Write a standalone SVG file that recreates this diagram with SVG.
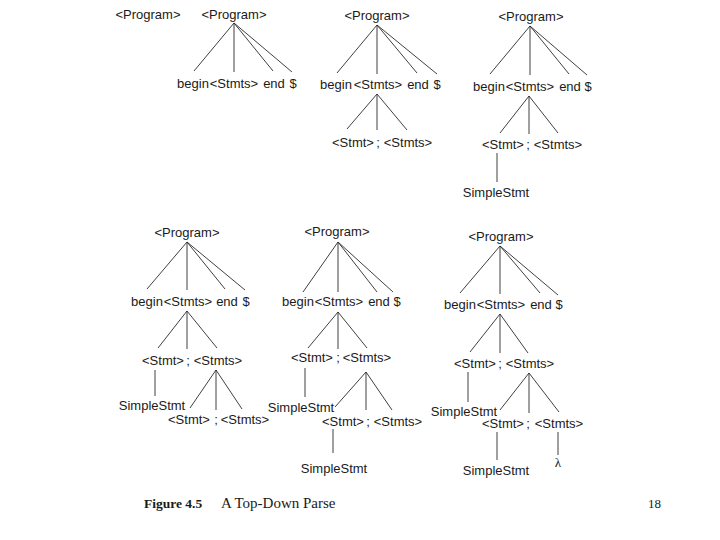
<svg xmlns="http://www.w3.org/2000/svg" width="720" height="540" viewBox="0 0 720 540">
<style>
.t{font-family:"Liberation Sans",Arial,Helvetica,sans-serif;font-size:13px;fill:#1a1a1a;text-anchor:middle}
.l{stroke:#2a2a2a;stroke-width:0.9;fill:none}
.cap{font-family:"Liberation Serif","Times New Roman",serif;fill:#1a1a1a}
</style>
<rect width="720" height="540" fill="#ffffff"/>
<g id="connectors" class="l">
<path d="M234 23L194 71M234 23L234 72M234 23L273 71M234 23L292 72"/>
<path d="M377 25L337 73M377 25L377 74M377 25L417 73M377 25L437 74"/>
<path d="M377 94L347 129M377 94L377 130M377 94L407 130"/>
<path d="M530 26L490 74M530 26L530 75M530 26L569 74M530 26L587 75"/>
<path d="M529 96L500 133M529 96L529 134M529 96L558 133M497 153L497 182"/>
<path d="M187 242L147 289M187 242L187 290M187 242L225 289M187 242L245 290"/>
<path d="M187 311L158 348M187 311L187 349M187 311L217 348M155 370L155 396"/>
<path d="M216 370L190 408M216 370L216 410M216 370L242 409"/>
<path d="M338 242L303 292M338 242L338 292M338 242L377 292M338 242L393 292"/>
<path d="M338 312L308 348M338 312L338 349M338 312L367 348M305 368L305 397"/>
<path d="M366 372L335 407M366 372L366 410M366 372L392 410M333 429L333 453"/>
<path d="M500 246L460 293M500 246L500 294M500 246L540 293M500 246L558 295"/>
<path d="M500 314L470 352M500 314L500 353M500 314L528 353M468 372L468 402"/>
<path d="M529 373L500 410M529 373L529 413M529 373L559 412M497 432L497 460M558 432L558 455"/>
</g>
<g id="tree0"><g id="t0-program"><text class="t" x="148" y="19">&lt;Program&gt;</text></g></g>
<g id="tree1">
<g id="t1-program"><text class="t" x="234" y="19">&lt;Program&gt;</text></g>
<g id="t1-begin"><text class="t" x="193" y="88">begin</text></g>
<g id="t1-stmts"><text class="t" x="234" y="88">&lt;Stmts&gt;</text></g>
<g id="t1-end"><text class="t" x="274" y="88">end</text></g>
<g id="t1-dollar"><text class="t" x="293" y="88">$</text></g>
</g>
<g id="tree2">
<g id="t2-program"><text class="t" x="377" y="20">&lt;Program&gt;</text></g>
<g id="t2-begin"><text class="t" x="336" y="89">begin</text></g>
<g id="t2-stmts"><text class="t" x="378" y="89">&lt;Stmts&gt;</text></g>
<g id="t2-end"><text class="t" x="418" y="89">end</text></g>
<g id="t2-dollar"><text class="t" x="437" y="89">$</text></g>
<g id="t2-stmt"><text class="t" x="353" y="147">&lt;Stmt&gt;</text></g>
<g id="t2-semi"><text class="t" x="378" y="147">;</text></g>
<g id="t2-stmts2"><text class="t" x="408" y="147">&lt;Stmts&gt;</text></g>
</g>
<g id="tree3">
<g id="t3-program"><text class="t" x="531" y="21">&lt;Program&gt;</text></g>
<g id="t3-begin"><text class="t" x="489" y="91">begin</text></g>
<g id="t3-stmts"><text class="t" x="530" y="91">&lt;Stmts&gt;</text></g>
<g id="t3-end"><text class="t" x="570" y="91">end</text></g>
<g id="t3-dollar"><text class="t" x="588" y="91">$</text></g>
<g id="t3-stmt"><text class="t" x="503" y="149">&lt;Stmt&gt;</text></g>
<g id="t3-semi"><text class="t" x="528" y="149">;</text></g>
<g id="t3-stmts2"><text class="t" x="558" y="149">&lt;Stmts&gt;</text></g>
<g id="t3-simple"><text class="t" x="496" y="197">SimpleStmt</text></g>
</g>
<g id="tree4">
<g id="t4-program"><text class="t" x="187" y="237">&lt;Program&gt;</text></g>
<g id="t4-begin"><text class="t" x="147" y="306">begin</text></g>
<g id="t4-stmts"><text class="t" x="188" y="306">&lt;Stmts&gt;</text></g>
<g id="t4-end"><text class="t" x="227" y="306">end</text></g>
<g id="t4-dollar"><text class="t" x="246" y="306">$</text></g>
<g id="t4-stmt"><text class="t" x="163" y="365">&lt;Stmt&gt;</text></g>
<g id="t4-semi"><text class="t" x="188" y="365">;</text></g>
<g id="t4-stmts2"><text class="t" x="218" y="365">&lt;Stmts&gt;</text></g>
<g id="t4-simple"><text class="t" x="152" y="410">SimpleStmt</text></g>
<g id="t4-stmt2"><text class="t" x="189" y="424">&lt;Stmt&gt;</text></g>
<g id="t4-semi2"><text class="t" x="216" y="424">;</text></g>
<g id="t4-stmts3"><text class="t" x="245" y="424">&lt;Stmts&gt;</text></g>
</g>
<g id="tree5">
<g id="t5-program"><text class="t" x="337" y="236">&lt;Program&gt;</text></g>
<g id="t5-begin"><text class="t" x="298" y="306">begin</text></g>
<g id="t5-stmts"><text class="t" x="339" y="306">&lt;Stmts&gt;</text></g>
<g id="t5-end"><text class="t" x="379" y="306">end</text></g>
<g id="t5-dollar"><text class="t" x="397" y="306">$</text></g>
<g id="t5-stmt"><text class="t" x="312" y="362">&lt;Stmt&gt;</text></g>
<g id="t5-semi"><text class="t" x="338" y="362">;</text></g>
<g id="t5-stmts2"><text class="t" x="367" y="362">&lt;Stmts&gt;</text></g>
<g id="t5-simple"><text class="t" x="301" y="412">SimpleStmt</text></g>
<g id="t5-stmt2"><text class="t" x="343" y="426">&lt;Stmt&gt;</text></g>
<g id="t5-semi2"><text class="t" x="368" y="426">;</text></g>
<g id="t5-stmts3"><text class="t" x="398" y="426">&lt;Stmts&gt;</text></g>
<g id="t5-simple2"><text class="t" x="334" y="473">SimpleStmt</text></g>
</g>
<g id="tree6">
<g id="t6-program"><text class="t" x="501" y="241">&lt;Program&gt;</text></g>
<g id="t6-begin"><text class="t" x="460" y="309">begin</text></g>
<g id="t6-stmts"><text class="t" x="501" y="309">&lt;Stmts&gt;</text></g>
<g id="t6-end"><text class="t" x="541" y="309">end</text></g>
<g id="t6-dollar"><text class="t" x="559" y="309">$</text></g>
<g id="t6-stmt"><text class="t" x="475" y="368">&lt;Stmt&gt;</text></g>
<g id="t6-semi"><text class="t" x="500" y="368">;</text></g>
<g id="t6-stmts2"><text class="t" x="530" y="368">&lt;Stmts&gt;</text></g>
<g id="t6-simple"><text class="t" x="464" y="416">SimpleStmt</text></g>
<g id="t6-stmt2"><text class="t" x="503" y="428">&lt;Stmt&gt;</text></g>
<g id="t6-semi2"><text class="t" x="528" y="428">;</text></g>
<g id="t6-stmts3"><text class="t" x="559" y="428">&lt;Stmts&gt;</text></g>
<g id="t6-simple2"><text class="t" x="496" y="475">SimpleStmt</text></g>
<g id="t6-lambda"><text class="t" x="558" y="467" style="font-family:'Liberation Serif','Times New Roman',serif;font-size:13px">λ</text></g>
</g>
<g id="caption">
<text class="cap" x="144" y="508" font-size="13.5" font-weight="bold">Figure 4.5</text>
<text class="cap" x="221" y="508" font-size="15">A Top-Down Parse</text>
<text class="cap" x="648" y="508" font-size="13">18</text>
</g>
</svg>
